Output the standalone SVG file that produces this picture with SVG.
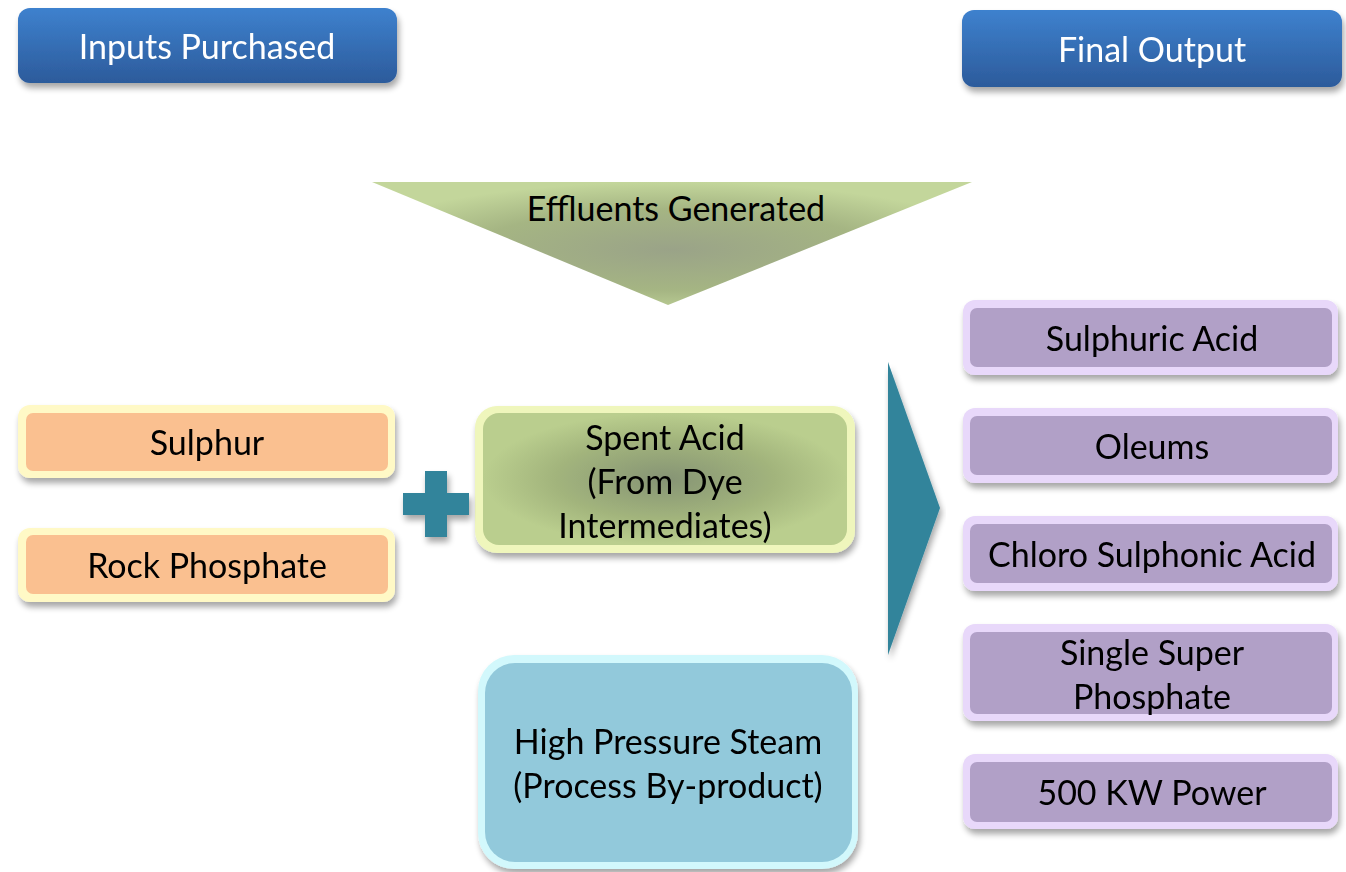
<svg xmlns="http://www.w3.org/2000/svg" width="1346" height="872" viewBox="0 0 1346 872">
<defs>
<style>
text{font-family:Lato,"Open Sans","DejaVu Sans",sans-serif;font-size:34px;text-anchor:middle;fill:#000}
.w{fill:#fff}
</style>
<linearGradient id="blue" x1="0" y1="0" x2="0" y2="1">
<stop offset="0" stop-color="#3E81CE"/><stop offset="1" stop-color="#2C5B9B"/>
</linearGradient>
<radialGradient id="eff" cx="0.5" cy="0.55" r="0.55">
<stop offset="0" stop-color="#9AA388"/><stop offset="0.6" stop-color="#A5B583"/><stop offset="1" stop-color="#C3D69B"/>
</radialGradient>
<radialGradient id="spent" cx="0.5" cy="0.5" r="0.5">
<stop offset="0" stop-color="#869475"/><stop offset="0.6" stop-color="#A2B47C"/><stop offset="1" stop-color="#BACE8E"/>
</radialGradient>
<filter id="sh" x="-10%" y="-20%" width="120%" height="150%">
<feGaussianBlur in="SourceAlpha" stdDeviation="3"/>
<feOffset dx="2" dy="5" result="b"/>
<feComponentTransfer><feFuncA type="linear" slope="0.35"/></feComponentTransfer>
<feMerge><feMergeNode/><feMergeNode in="SourceGraphic"/></feMerge>
</filter>
</defs>
<rect width="1346" height="872" fill="#fff"/>

<g id="inputs-purchased" filter="url(#sh)">
<rect x="18" y="8" width="379" height="75" rx="12" fill="url(#blue)"/>
<text class="w" x="207" y="59">Inputs Purchased</text>
</g>
<g id="final-output" filter="url(#sh)">
<rect x="962" y="10" width="380" height="77" rx="12" fill="url(#blue)"/>
<text class="w" x="1152" y="62">Final Output</text>
</g>

<g id="effluents">
<polygon points="372,182 972,182 668,305" fill="url(#eff)"/>
<text x="676" y="221">Effluents Generated</text>
</g>

<g id="sulphur" filter="url(#sh)">
<rect x="18" y="405" width="377" height="73" rx="12" fill="#FFF9C6"/>
<rect x="26" y="413" width="362" height="58" rx="7" fill="#FAC090"/>
<text x="207" y="455">Sulphur</text>
</g>
<g id="rock-phosphate" filter="url(#sh)">
<rect x="18" y="528" width="377" height="74" rx="12" fill="#FFF9C6"/>
<rect x="26" y="535" width="362" height="59" rx="7" fill="#FAC090"/>
<text x="207" y="578">Rock Phosphate</text>
</g>

<g id="spent-acid" filter="url(#sh)">
<rect x="475" y="406" width="380" height="147" rx="22" fill="#EFF6BC"/>
<rect x="483" y="413" width="364" height="132" rx="16" fill="url(#spent)"/>
<text x="665" y="450">Spent Acid</text>
<text x="665" y="494">(From Dye</text>
<text x="665" y="538">Intermediates)</text>
</g>

<g id="steam" filter="url(#sh)">
<rect x="478" y="655" width="380" height="214" rx="36" fill="#D2F8FC"/>
<rect x="485" y="663" width="367" height="199" rx="30" fill="#92C9DB"/>
<text x="668" y="754">High Pressure Steam</text>
<text x="668" y="798">(Process By-product)</text>
</g>

<g id="out-sulphuric" filter="url(#sh)">
<rect x="963" y="300" width="375" height="75" rx="12" fill="#E8D8FA"/>
<rect x="970" y="308" width="362" height="59" rx="7" fill="#B1A0C7"/>
<text x="1152" y="351">Sulphuric Acid</text>
</g>
<g id="out-oleums" filter="url(#sh)">
<rect x="963" y="408" width="375" height="75" rx="12" fill="#E8D8FA"/>
<rect x="970" y="416" width="362" height="59" rx="7" fill="#B1A0C7"/>
<text x="1152" y="459">Oleums</text>
</g>
<g id="out-chloro" filter="url(#sh)">
<rect x="963" y="516" width="375" height="75" rx="12" fill="#E8D8FA"/>
<rect x="970" y="524" width="362" height="59" rx="7" fill="#B1A0C7"/>
<text x="1152" y="567">Chloro Sulphonic Acid</text>
</g>
<g id="out-ssp" filter="url(#sh)">
<rect x="963" y="624" width="375" height="97" rx="12" fill="#E8D8FA"/>
<rect x="970" y="632" width="362" height="82" rx="7" fill="#B1A0C7"/>
<text x="1152" y="665">Single Super</text>
<text x="1152" y="709">Phosphate</text>
</g>
<g id="out-power" filter="url(#sh)">
<rect x="963" y="754" width="375" height="75" rx="12" fill="#E8D8FA"/>
<rect x="970" y="762" width="362" height="60" rx="7" fill="#B1A0C7"/>
<text x="1152" y="805">500 KW Power</text>
</g>

<g id="connectors">
<path id="plus" d="M425,471 H447 V493 H469 V515 H447 V537 H425 V515 H403 V493 H425 Z" fill="#31849B" filter="url(#sh)"/>
<polygon id="big-arrow" points="888,362 940,508 888,655" fill="#31849B" filter="url(#sh)"/>
</g>
</svg>
